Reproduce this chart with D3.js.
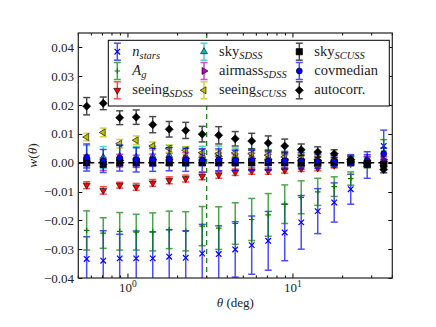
<!DOCTYPE html>
<html><head><meta charset="utf-8">
<script src="https://cdn.jsdelivr.net/npm/d3@7"></script>
<style>
html,body{margin:0;padding:0;background:#fff;}
svg{display:block;}
</style></head>
<body><svg id="c" width="436" height="327" font-family="'Liberation Serif', 'DejaVu Serif', serif"></svg>
<script>
// ---- data ----
const theta = [0.562, 0.708, 0.891, 1.122, 1.413, 1.778, 2.239, 2.818, 3.548, 4.467, 5.623, 7.079, 8.913, 11.22, 14.13, 17.78, 22.39, 28.18, 35.48];
const nstars     = [-0.0334,-0.0340,-0.0332,-0.0332,-0.0332,-0.0326,-0.0330,-0.0315,-0.0317,-0.0301,-0.0286,-0.0271,-0.0242,-0.0207,-0.0168,-0.0138,-0.0092,-0.0008,0.0058];
const nstarsErr  = [0.0077,0.0104,0.0084,0.0095,0.0092,0.0094,0.0094,0.0101,0.0098,0.0096,0.0101,0.0102,0.0098,0.0093,0.0078,0.0068,0.0052,0.0046,0.0055];
const ag         = [-0.0235,-0.0244,-0.0238,-0.0241,-0.0240,-0.0233,-0.0238,-0.0220,-0.0227,-0.0211,-0.0197,-0.0181,-0.0144,-0.0120,-0.0101,-0.0083,-0.0055,0.0002,0.0040];
const agErr      = [0.0068,0.0053,0.0065,0.0062,0.0066,0.0065,0.0068,0.0068,0.0074,0.0072,0.0073,0.0074,0.0067,0.0057,0.0047,0.0034,0.0023,0.0020,0.0040];
const seeingSDSS    = [-0.0078,-0.0096,-0.0078,-0.0084,-0.0070,-0.0061,-0.0055,-0.0047,-0.0042,-0.0033,-0.0029,-0.0029,-0.0026,-0.0020,-0.0018,-0.0009,-0.0003,-0.0005,-0.0003];
const seeingSDSSErr = [0.0012,0.0013,0.0010,0.0012,0.0012,0.0012,0.0012,0.0012,0.0012,0.0011,0.0011,0.0011,0.0010,0.0010,0.0010,0.0009,0.0008,0.0008,0.0008];
const skySDSS       = [0.0020,0.0018,0.0022,0.0020,0.0022,0.0025,0.0022,0.0025,0.0028,0.0022,0.0020,0.0018,0.0015,0.0013,0.0010,0.0008,0.0006,0.0003,0.0002];
const skySDSSErr    = [0.0040,0.0038,0.0038,0.0036,0.0035,0.0034,0.0033,0.0032,0.0030,0.0029,0.0028,0.0026,0.0025,0.0023,0.0021,0.0019,0.0017,0.0016,0.0015];
const airmassSDSS   = [0.0005,-0.0005,0.0008,0.0005,0.0010,0.0012,0.0015,0.0012,0.0015,0.0012,0.0015,0.0012,0.0012,0.0012,0.0008,0.0006,0.0005,0.0008,0.0010];
const airmassSDSSErr= [0.0022,0.0022,0.0021,0.0021,0.0020,0.0020,0.0020,0.0019,0.0019,0.0018,0.0018,0.0017,0.0016,0.0016,0.0015,0.0014,0.0013,0.0013,0.0012];
const seeingSCUSS   = [0.0089,0.0105,0.0066,0.0078,0.0058,0.0049,0.0043,0.0035,0.0031,0.0034,0.0031,0.0026,0.0020,0.0018,0.0012,0.0005,0.0003,-0.0002,-0.0010];
const seeingSCUSSErr= [0.0013,0.0015,0.0015,0.0015,0.0014,0.0013,0.0013,0.0012,0.0012,0.0012,0.0012,0.0011,0.0011,0.0010,0.0010,0.0009,0.0009,0.0008,0.0008];
const skySCUSS      = [0.0000,-0.0005,0.0000,0.0000,0.0000,0.0000,0.0000,0.0000,0.0000,0.0000,0.0000,0.0000,0.0000,0.0000,0.0000,0.0000,0.0002,-0.0005,-0.0005];
const skySCUSSErr   = [0.0010,0.0010,0.0010,0.0010,0.0010,0.0010,0.0010,0.0010,0.0010,0.0010,0.0010,0.0009,0.0009,0.0009,0.0009,0.0009,0.0008,0.0008,0.0008];
const covmedian     = [0.0018,0.0006,0.0016,0.0010,0.0010,0.0012,0.0010,0.0008,0.0010,0.0008,0.0008,0.0006,0.0007,0.0006,0.0005,0.0005,0.0010,0.0008,0.0031];
const covmedianErr  = [0.0047,0.0040,0.0045,0.0042,0.0040,0.0040,0.0040,0.0040,0.0038,0.0035,0.0035,0.0032,0.0030,0.0028,0.0025,0.0020,0.0018,0.0020,0.0020];
const autocorr      = [0.0196,0.0206,0.0156,0.0158,0.0132,0.0116,0.0112,0.0099,0.0095,0.0083,0.0075,0.0068,0.0058,0.0045,0.0037,0.0031,0.0011,-0.0003,-0.0024];
const autocorrErr   = [0.0030,0.0022,0.0024,0.0025,0.0028,0.0027,0.0028,0.0027,0.0030,0.0025,0.0027,0.0025,0.0024,0.0020,0.0018,0.0014,0.0012,0.0010,0.0011];
const yTicks = [-0.04,-0.03,-0.02,-0.01,0.00,0.01,0.02,0.03,0.04];
const xMajorTicks = [1, 10];
const xMinorTicks = [0.5,0.6,0.7,0.8,0.9,2,3,4,5,6,7,8,9,20,30,40];
const xDomain = [0.5, 40];
const yDomain = [-0.04, 0.045];
const thetaCut = 3.0;
const legendBase = ["n","A","seeing","sky","airmass","seeing","sky","covmedian","autocorr."];
const legendSub  = ["stars","g","SDSS","SDSS","SDSS","SCUSS","SCUSS","",""];

const S = [
  {v:nstars,e:nstarsErr,c:"#0000ff",m:"x"},
  {v:ag,e:agErr,c:"#008000",m:"+"},
  {v:seeingSDSS,e:seeingSDSSErr,c:"#ff0000",m:"v"},
  {v:skySDSS,e:skySDSSErr,c:"#00bfbf",m:"^"},
  {v:airmassSDSS,e:airmassSDSSErr,c:"#bf00bf",m:">"},
  {v:seeingSCUSS,e:seeingSCUSSErr,c:"#bfbf00",m:"<"},
  {v:skySCUSS,e:skySCUSSErr,c:"#000000",m:"s"},
  {v:covmedian,e:covmedianErr,c:"#0000ff",m:"o"},
  {v:autocorr,e:autocorrErr,c:"#000000",m:"D"}
];
const L=78.3,R=392.3,T=33,B=278;
const svg=d3.select("#c");
const x=d3.scaleLog().domain(xDomain).range([L,R]);
const y=d3.scaleLinear().domain(yDomain).range([B,T]);

svg.append("defs").append("clipPath").attr("id","clip").append("rect")
  .attr("x",L).attr("y",T).attr("width",R-L).attr("height",B-T);
const g=svg.append("g").attr("clip-path","url(#clip)");

function markerPath(m,s){
  const h=s*0.87;
  switch(m){
    case "^": return `M0,${-s}L${h},${s*0.5}L${-h},${s*0.5}Z`;
    case "v": return `M0,${s}L${h},${-s*0.5}L${-h},${-s*0.5}Z`;
    case ">": return `M${s},0L${-s*0.5},${h}L${-s*0.5},${-h}Z`;
    case "<": return `M${-s},0L${s*0.5},${h}L${s*0.5},${-h}Z`;
    case "s": return `M${-s*0.8},${-s*0.8}H${s*0.8}V${s*0.8}H${-s*0.8}Z`;
    case "D": return `M0,${-s}L${s},0L0,${s}L${-s},0Z`;
    case "o": return d3.symbol(d3.symbolCircle, Math.PI*(s*0.75)*(s*0.75))();
    case "x": return `M${-s*0.7},${-s*0.7}L${s*0.7},${s*0.7}M${-s*0.7},${s*0.7}L${s*0.7},${-s*0.7}`;
    case "+": return `M${-s*0.7},0H${s*0.7}M0,${-s*0.7}V${s*0.7}`;
  }
}
function drawMarker(sel,sr,cx,cy){
  const s=4;
  const p=sel.append("path").attr("d",markerPath(sr.m,s)).attr("transform",`translate(${cx},${cy})`);
  if(sr.m==="x"||sr.m==="+"){p.attr("fill","none").attr("stroke",sr.c).attr("stroke-width",1.2);}
  else{p.attr("fill",sr.c).attr("stroke","#000").attr("stroke-width",0.6);}
}
function drawBar(sel,c,cx,y1,y2){
  const gg=sel.append("g").attr("stroke",c).attr("stroke-width",1.5).attr("opacity",0.7);
  gg.append("line").attr("x1",cx).attr("x2",cx).attr("y1",y1).attr("y2",y2);
  gg.append("line").attr("x1",cx-3.5).attr("x2",cx+3.5).attr("y1",y1).attr("y2",y1);
  gg.append("line").attr("x1",cx-3.5).attr("x2",cx+3.5).attr("y1",y2).attr("y2",y2);
}
S.forEach(sr=>{
  const sg=g.append("g");
  theta.forEach((t,i)=>{
    drawBar(sg,sr.c,x(t),y(sr.v[i]+sr.e[i]),y(sr.v[i]-sr.e[i]));
  });
  theta.forEach((t,i)=>drawMarker(sg,sr,x(t),y(sr.v[i])));
});
// reference lines
g.append("line").attr("x1",L).attr("x2",R).attr("y1",y(0)).attr("y2",y(0))
  .attr("stroke","#000").attr("stroke-width",1.5).attr("stroke-dasharray","6,4");
g.append("line").attr("x1",x(thetaCut)).attr("x2",x(thetaCut)).attr("y1",T).attr("y2",B)
  .attr("stroke","#008000").attr("stroke-width",1.2).attr("stroke-dasharray","5,4");

// frame & ticks
const ax=svg.append("g").attr("stroke","#000").attr("stroke-width",1);
yTicks.forEach(v=>{
  const yy=Math.round(y(v))+0.5;
  ax.append("line").attr("x1",L).attr("x2",L+4).attr("y1",yy).attr("y2",yy);
  ax.append("line").attr("x1",R).attr("x2",R-4).attr("y1",yy).attr("y2",yy);
});
xMajorTicks.forEach(v=>{
  const xx=x(v);
  ax.append("line").attr("x1",xx).attr("x2",xx).attr("y1",B).attr("y2",B-4.5);
  ax.append("line").attr("x1",xx).attr("x2",xx).attr("y1",T).attr("y2",T+4.5);
});
xMinorTicks.forEach(v=>{
  const xx=x(v);
  ax.append("line").attr("x1",xx).attr("x2",xx).attr("y1",B).attr("y2",B-2.5);
  ax.append("line").attr("x1",xx).attr("x2",xx).attr("y1",T).attr("y2",T+2.5);
});
svg.append("rect").attr("x",L).attr("y",T).attr("width",R-L).attr("height",B-T)
  .attr("fill","none").attr("stroke","#222").attr("stroke-width",1.2);

// tick labels
const fmt=v=>(v<0?"\u2212":"")+Math.abs(v).toFixed(2);
yTicks.forEach(v=>{
  svg.append("text").attr("x",74).attr("y",y(v)).attr("dy","0.35em").attr("text-anchor","end")
    .attr("font-size",13).attr("fill","#222").text(fmt(v));
});
xMajorTicks.forEach(v=>{
  const t=svg.append("text").attr("x",x(v)).attr("y",292).attr("text-anchor","middle")
    .attr("font-size",13).attr("fill","#222");
  t.append("tspan").text("10");
  t.append("tspan").attr("dy",-5).attr("font-size",9.5).text(Math.round(Math.log10(v)));
});
// axis labels
const xl=svg.append("text").attr("x",(L+R)/2).attr("y",307).attr("text-anchor","middle").attr("font-size",13).attr("fill","#222");
xl.append("tspan").attr("font-style","italic").text("θ");
xl.append("tspan").text(" (deg)");
const yl=svg.append("text").attr("transform",`translate(37,${(T+B)/2}) rotate(-90)`).attr("text-anchor","middle").attr("font-size",13.5).attr("fill","#222");
yl.append("tspan").attr("font-style","italic").text("w");
yl.append("tspan").text("(");
yl.append("tspan").attr("font-style","italic").text("θ");
yl.append("tspan").text(")");

// legend
const lg=svg.append("g");
lg.append("rect").attr("x",108.3).attr("y",40.3).attr("width",281).attr("height",65.7)
  .attr("fill","#fff").attr("stroke","#000").attr("stroke-width",1);
const colX=[117.3,204,299.3], rowY=[51.7,71,90.3];
S.forEach((sr,i)=>{
  const cx=colX[Math.floor(i/3)], cy=rowY[i%3];
  drawBar(lg,sr.c,cx,cy-8.5,cy+8.5);
  drawMarker(lg,sr,cx,cy);
  const t=lg.append("text").attr("x",cx+15).attr("y",cy+4).attr("font-size",14.5).attr("fill","#222");
  const italicBase = (i===0||i===1);
  t.append("tspan").attr("font-style",italicBase?"italic":"normal").text(legendBase[i]);
  if(legendSub[i]) t.append("tspan").attr("font-style","italic").attr("font-size",10.5).attr("dy",3).text(legendSub[i]);
});
</script>
</body></html>
